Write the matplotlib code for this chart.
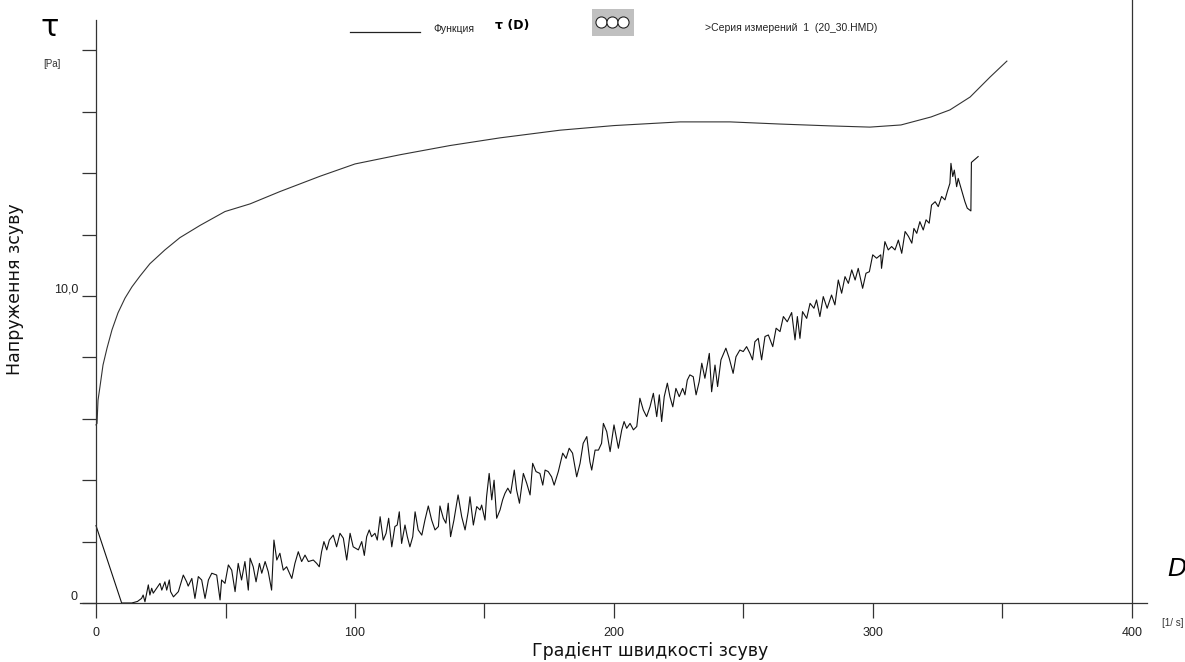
import matplotlib
matplotlib.use("Agg")
import matplotlib.pyplot as plt
from matplotlib.lines import Line2D
from matplotlib.patches import Rectangle

# flow curve tau(D), fitted function
D_func = [0, 0.39, 0.77, 1.54, 2.7, 4.25, 6.18, 8.49, 11.2, 13.9, 17.0, 20.8, 26.6,
          32.4, 40.2, 49.8, 59.5, 71.0, 86.5, 100, 117.4, 136.7, 156, 179.2, 200,
          225.5, 244.8, 264.1, 283.4, 298.8, 310.8, 322.4, 329.7, 337.5, 345.2, 351.7]
tau_func = [5.80, 5.85, 6.6, 7.05, 7.75, 8.3, 8.9, 9.45, 9.93, 10.3, 10.65, 11.05,
            11.5, 11.9, 12.3, 12.75, 13.0, 13.4, 13.9, 14.3, 14.6, 14.9, 15.15, 15.4,
            15.55, 15.67, 15.67, 15.6, 15.54, 15.5, 15.57, 15.83, 16.06, 16.48,
            17.13, 17.65]

# measured series 1 (20_30.HMD)
D_meas = [
    0, 9.9, 13.8, 16.0, 17.6, 18.2, 18.9, 20.2, 20.8, 21.5, 22.1, 23.4, 24.7, 25.4,
    26.6, 27.3, 28.3, 28.8, 29.9, 31.8, 33.7, 35.0, 35.6, 37.0, 38.2, 39.5, 40.8,
    42.1, 43.4, 44.7, 46.6, 47.9, 48.5, 49.8, 51.1, 52.4, 53.7, 54.9, 56.2, 57.5,
    58.8, 59.5, 60.7, 61.8, 63.1, 64.0, 65.3, 66.5, 67.8, 68.7, 69.8, 71.0, 72.3,
    73.6, 75.6, 76.8, 78.1, 79.4, 80.7, 82.0, 83.9, 85.2, 86.2, 87.1, 88.0, 89.1,
    90.1, 91.6, 92.9, 94.2, 95.5, 96.8, 98.1, 99.3, 101.3, 102.6, 103.6, 104.5,
    105.5, 106.4, 107.7, 108.6, 109.7, 110.9, 112.0, 113.0, 114.2, 115.4, 116.3,
    117.1, 118.0, 119.3, 120.2, 121.2, 122.3, 123.2, 124.4, 125.8, 127.0, 128.3,
    129.6, 130.9, 132.2, 132.8, 134.1, 135.1, 136.0, 136.9, 138.2, 139.8, 141.2,
    142.5, 143.7, 144.4, 145.7, 147.0, 148.3, 148.9, 150.2, 150.8, 151.8, 152.8,
    153.7, 154.7, 156.0, 157.0, 157.9, 159.0, 160.1, 161.5, 162.4, 163.5, 165.0,
    166.3, 167.6, 168.6, 169.9, 171.4, 172.5, 173.4, 174.6, 175.9, 176.9, 178.5,
    180.2, 181.5, 182.7, 184.0, 185.6, 186.9, 188.1, 189.5, 190.7, 191.4, 192.7,
    194.0, 195.2, 195.9, 197.2, 198.5, 200.0, 201.7, 203.0, 203.9, 204.9, 206.2,
    207.5, 208.8, 210.0, 211.3, 212.6, 213.9, 215.2, 216.5, 217.5, 218.4, 219.4,
    220.6, 221.6, 222.7, 223.9, 225.2, 226.5, 227.4, 228.3, 229.3, 230.6, 231.7,
    232.9, 233.9, 235.1, 236.8, 237.7, 239.0, 240.0, 241.3, 243.2, 244.5, 246.0,
    247.1, 248.6, 249.9, 251.2, 252.5, 253.5, 254.4, 255.7, 257.0, 258.3, 259.6,
    261.3, 262.6, 264.1, 265.4, 266.9, 268.6, 269.9, 270.8, 271.8, 272.8, 274.4,
    275.7, 277.2, 278.2, 279.5, 280.8, 282.3, 284.0, 285.3, 286.6, 287.9, 289.2,
    290.5, 291.8, 293.1, 294.3, 296.0, 297.3, 298.6, 299.9, 301.4, 303.0, 303.3,
    304.6, 305.9, 307.2, 308.5, 309.8, 311.1, 312.4, 313.7, 315.0, 315.8, 316.9,
    318.1, 319.4, 320.5, 321.7, 322.6, 324.0, 325.2, 326.5, 327.8, 328.7, 329.7,
    330.1, 330.8, 331.4, 332.3, 332.9, 334.2, 335.5, 336.4, 337.8, 338.0, 340.6,
]
tau_meas = [
    2.52, 0.0, 0.0, 0.05, 0.15, 0.26, 0.04, 0.59, 0.26, 0.48, 0.32, 0.48, 0.64, 0.42,
    0.69, 0.42, 0.75, 0.37, 0.20, 0.37, 0.91, 0.69, 0.55, 0.80, 0.15, 0.86, 0.75,
    0.15, 0.75, 0.97, 0.91, 0.10, 0.75, 0.64, 1.24, 1.07, 0.37, 1.29, 0.75, 1.35,
    0.42, 1.46, 1.18, 0.69, 1.29, 0.97, 1.35, 1.02, 0.42, 2.05, 1.40, 1.62, 1.07,
    1.18, 0.80, 1.29, 1.67, 1.35, 1.56, 1.35, 1.40, 1.29, 1.18, 1.67, 2.00, 1.73,
    2.05, 2.21, 1.83, 2.27, 2.11, 1.40, 2.27, 1.83, 1.73, 2.00, 1.55, 2.16,
    2.38, 2.16, 2.27, 2.05, 2.81, 2.05, 2.27, 2.76, 1.83, 2.49, 2.54,
    2.97, 1.94, 2.54, 2.16, 1.83, 2.16, 2.97, 2.38, 2.21, 2.70, 3.16,
    2.70, 2.38, 2.49, 3.16, 2.76, 2.60, 3.25, 2.16, 2.70, 3.52, 2.81,
    2.38, 2.97, 3.46, 2.54, 3.14, 3.03, 3.19, 2.70, 3.46, 4.22, 3.36,
    4.00, 2.76, 3.03, 3.36, 3.57, 3.74, 3.57, 4.33, 3.68, 3.25, 4.22,
    3.90, 3.52, 4.55, 4.28, 4.22, 3.84, 4.33, 4.28, 4.11, 3.84, 4.28,
    4.88, 4.71, 5.04, 4.88, 4.11, 4.55, 5.20, 5.42, 4.60, 4.33, 4.98,
    4.98, 5.20, 5.85, 5.58, 4.93, 5.80, 5.04, 5.64, 5.91, 5.69, 5.85,
    5.64, 5.75, 6.67, 6.29, 6.07, 6.39, 6.83, 6.07, 6.78, 5.91, 6.72,
    7.16, 6.72, 6.39, 6.99, 6.72, 6.99, 6.78, 7.26, 7.43, 7.37, 6.78,
    7.21, 7.81, 7.32, 8.13, 6.88, 7.75, 7.05, 7.92, 8.30, 7.97, 7.48,
    8.02, 8.24, 8.19, 8.35, 8.13, 7.92, 8.51, 8.62, 7.92, 8.68, 8.73,
    8.35, 8.95, 8.84, 9.33, 9.16, 9.46, 8.57, 9.33, 8.62, 9.49, 9.27,
    9.76, 9.60, 9.87, 9.33, 9.98, 9.60, 10.03, 9.71, 10.52, 10.09, 10.63,
    10.41, 10.85, 10.52, 10.90, 10.25, 10.74, 10.79, 11.34, 11.23, 11.34, 10.90,
    11.77, 11.50, 11.61, 11.50, 11.82, 11.39, 12.10, 11.94, 11.72, 12.20, 12.04,
    12.42, 12.15, 12.48, 12.37, 12.96, 13.07, 12.91, 13.24, 13.13, 13.40, 13.67,
    14.32, 13.89, 14.10, 13.56, 13.83, 13.45, 13.07, 12.86, 12.77, 14.35, 14.54,
]

x_ticks = [0, 50, 100, 150, 200, 250, 300, 350, 400]
x_labels = ["0", "", "100", "", "200", "", "300", "", "400"]
y_ticks = [0, 2, 4, 6, 8, 10, 12, 14, 16, 18]
y_labels = ["0", "", "", "", "", "10,0", "", "", "", ""]

W, H = 1185, 662
narrow = ["Liberation Sans Narrow", "Liberation Sans", "DejaVu Sans"]

fig = plt.figure(figsize=(W / 100, H / 100), dpi=100)
fig.patch.set_facecolor("white")
ax = fig.add_axes([80 / W, 59 / H, 1067 / W, 603 / H])

ax.plot(D_func, tau_func, color="#333333", lw=0.8)
ax.plot(D_meas, tau_meas, color="#111111", lw=0.8)

ax.set_xlim(-6.18, 405.8)
ax.set_ylim(0, 19.64)

ax.spines["top"].set_visible(False)
ax.spines["left"].set_position(("data", 0))
ax.spines["left"].set_bounds(0, 19.0)
ax.spines["right"].set_position(("data", 400))
for s in ("left", "right", "bottom"):
    ax.spines[s].set_color("#333333")
    ax.spines[s].set_linewidth(0.9)

ax.set_xticks(x_ticks, x_labels)
ax.set_yticks(y_ticks, y_labels)
ax.tick_params(axis="x", direction="out", length=11, width=0.9, color="#333333",
               pad=6, labelsize=9)
ax.tick_params(axis="y", direction="out", length=10, width=0.9, color="#333333",
               pad=3, labelsize=9)
ax.tick_params(axis="y", right=False)
for lab in ax.get_xticklabels() + ax.get_yticklabels():
    lab.set_family(narrow)
    lab.set_color("#222222")
for lab in ax.get_yticklabels():
    lab.set_verticalalignment("bottom")

# axis titles
fig.text(650 / W, 1 - 651 / H, "Градієнт швидкості зсуву", ha="center", va="center",
         fontsize=12.5, color="#111111", family="DejaVu Sans")
fig.text(15 / W, 1 - 289 / H, "Напруження зсуву", ha="center", va="center",
         rotation=90, fontsize=12.5, color="#111111", family="DejaVu Sans")

# unit symbols
fig.text(50 / W, 1 - 27 / H, "τ", ha="center", va="center", fontsize=22,
         family="DejaVu Sans")
fig.text(52 / W, 1 - 64 / H, "[Pa]", ha="center", va="center", fontsize=7,
         family=narrow, color="#333333")
fig.text(1177 / W, 1 - 569 / H, "D", ha="center", va="center", fontsize=18,
         style="italic", family="DejaVu Sans")
fig.text(1173 / W, 1 - 623 / H, "[1/ s]", ha="center", va="center", fontsize=7,
         family=narrow, color="#333333")

# legend strip at the top
fig.add_artist(Line2D([350 / W, 420 / W], [1 - 32 / H, 1 - 32 / H], color="#222222",
                      lw=0.9, transform=fig.transFigure))
fig.text(433 / W, 1 - 29 / H, "Функция", ha="left", va="center", fontsize=7.5,
         family=narrow, color="#222222")
fig.text(495 / W, 1 - 25 / H, "τ (D)", ha="left", va="center", fontsize=9,
         fontweight="bold", family="DejaVu Sans")
fig.add_artist(Rectangle((592 / W, 1 - 36 / H), 42 / W, 27 / H, facecolor="#c0c0c0",
                         edgecolor="none", transform=fig.transFigure))
fig.add_artist(Line2D([601 / W, 612 / W, 623 / W], [1 - 22 / H] * 3, marker="o",
                      linestyle="none", ms=8, mfc="white", mec="#222222", mew=0.8,
                      transform=fig.transFigure))
fig.text(705 / W, 1 - 28 / H, ">Серия измерений  1  (20_30.HMD)", ha="left",
         va="center", fontsize=7.5, family=narrow, color="#222222")

fig.savefig("out.png", dpi=100, facecolor="white")
